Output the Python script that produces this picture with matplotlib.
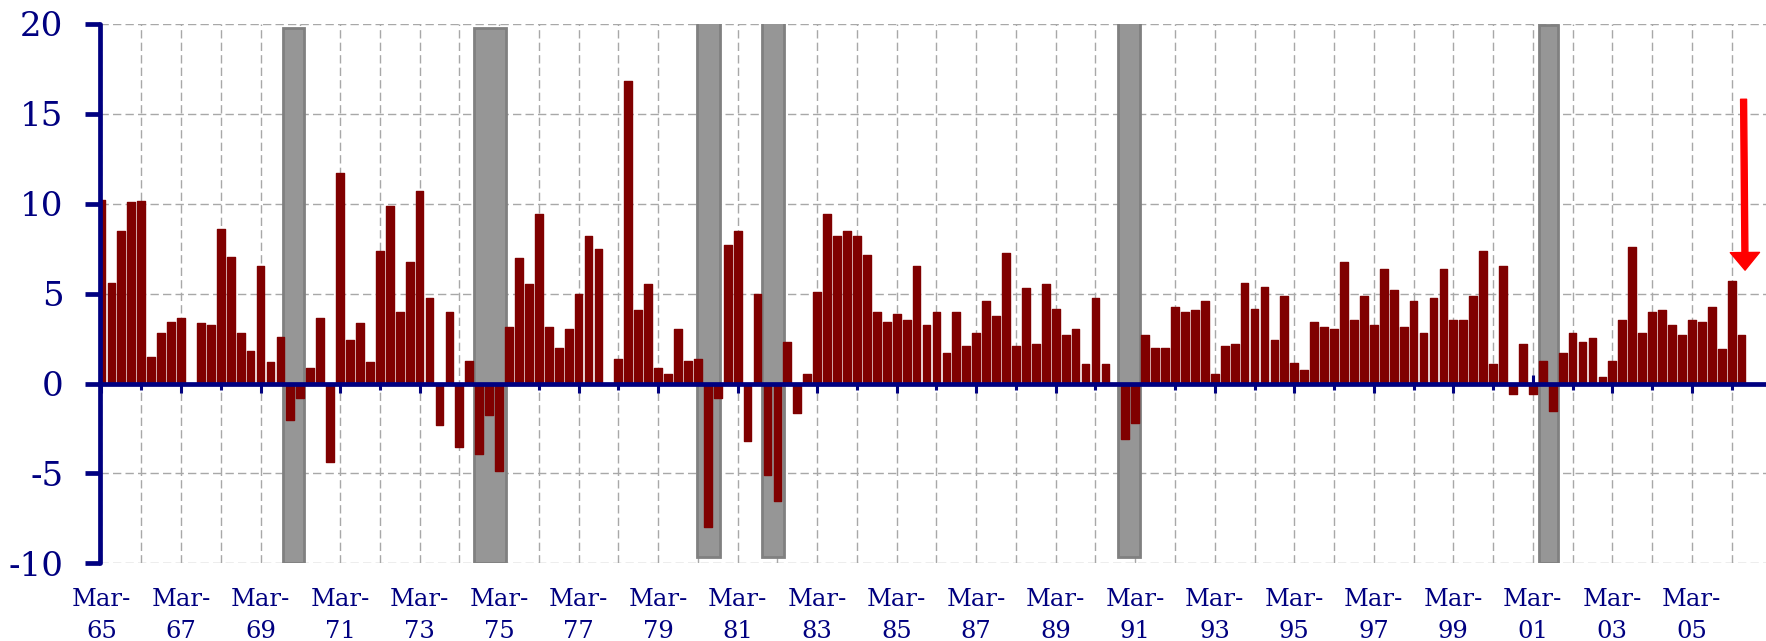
import matplotlib
matplotlib.use("Agg")
import matplotlib.pyplot as plt
import numpy as np

# ---- data -------------------------------------------------------------
values = [
    10.2, 5.6, 8.5, 10.1, 10.15, 1.45, 2.8, 3.43, 3.66, 0.0,
    3.34, 3.23, 8.6, 7.05, 2.8, 1.8, 6.55, 1.18, 2.6, -2.05,
    -0.8, 0.84, 3.66, -4.34, 11.7, 2.43, 3.34, 1.18, 7.36, 9.86,
    3.95, 6.75, 10.68, 4.77, -2.3, 3.95, -3.52, 1.25, -3.93, -1.77,
    -4.89, 3.14, 6.98, 5.55, 9.43, 3.14, 1.98, 3.02, 4.98, 8.18,
    7.48, 0.0, 1.34, 16.8, 4.07, 5.52, 0.84, 0.55, 3.05, 1.25,
    1.36, -7.98, -0.82, 7.7, 8.5, -3.2, 4.98, -5.07, -6.55, 2.3,
    -1.66, 0.55, 5.09, 9.43, 8.18, 8.5, 8.18, 7.16, 3.95, 3.41,
    3.84, 3.55, 6.52, 3.23, 3.95, 1.68, 3.95, 2.09, 2.82, 4.57,
    3.75, 7.27, 2.09, 5.3, 2.2, 5.52, 4.16, 2.7, 3.02, 1.07,
    4.77, 1.07, 0.0, -3.09, -2.18, 2.7, 1.98, 1.98, 4.25, 3.95,
    4.07, 4.57, 0.55, 2.09, 2.2, 5.61, 4.16, 5.39, 2.41, 4.89,
    1.16, 0.73, 3.43, 3.14, 3.05, 6.75, 3.55, 4.89, 3.23, 6.34,
    5.2, 3.14, 4.57, 2.82, 4.77, 6.34, 3.55, 3.55, 4.89, 7.36,
    1.07, 6.52, -0.59, 2.2, -0.59, 1.25, -1.55, 1.68, 2.82, 2.3,
    2.52, 0.34, 1.25, 3.55, 7.59, 2.82, 3.95, 4.07, 3.23, 2.7,
    3.55, 3.43, 4.25, 1.89, 5.7, 2.7,
]

# recession shading (start / end in quarter index, bottom / top in value units)
rec_start = [18.25, 37.45, 59.95, 66.45, 102.25, 144.65]
rec_end = [20.35, 40.65, 62.25, 68.65, 104.45, 146.55]
rec_bottom = [-10.0, -10.0, -9.63, -9.63, -9.63, -10.0]
rec_top = [19.75, 19.75, 20.1, 20.1, 20.1, 19.94]

label_idx = list(range(0, 166, 8))
label_txt = ["Mar-\n65", "Mar-\n67", "Mar-\n69", "Mar-\n71", "Mar-\n73",
             "Mar-\n75", "Mar-\n77", "Mar-\n79", "Mar-\n81", "Mar-\n83",
             "Mar-\n85", "Mar-\n87", "Mar-\n89", "Mar-\n91", "Mar-\n93",
             "Mar-\n95", "Mar-\n97", "Mar-\n99", "Mar-\n01", "Mar-\n03",
             "Mar-\n05"]
yticks = [-10, -5, 0, 5, 10, 15, 20]
ytick_txt = ["-10", "-5", "0", "5", "10", "15", "20"]

arrow_from = (165.2, 15.8)
arrow_to = (165.35, 6.3)

# ---- style ------------------------------------------------------------
NAVY = "#000080"
BAR = "#800000"
plt.rcParams["font.family"] = ["DejaVu Serif"]

W, H = 1766, 641
fig = plt.figure(figsize=(W / 100, H / 100), dpi=100)
left_px, bottom_px, top_px = 100, 563.4, 23.7
ax = fig.add_axes([left_px / W, (H - bottom_px) / H, 1 - left_px / W,
                   (bottom_px - top_px) / H])

x = np.arange(len(values))
px_per_q = 9.94
ax.set_xlim(-0.15, -0.15 + (W - left_px) / px_per_q)
ax.set_ylim(-10, 20)

# recession bars
ax.bar(rec_start, np.array(rec_top) - np.array(rec_bottom), bottom=rec_bottom,
       width=np.array(rec_end) - np.array(rec_start), align="edge",
       color="#969696", edgecolor="#808080", linewidth=2, zorder=1)

# data bars (slightly rounded look via round-joined edge)
ax.bar(x, values, width=0.78, color=BAR, edgecolor=BAR, linewidth=1.0,
       joinstyle="round", zorder=2)

# grid
ax.set_xticks(label_idx)
ax.set_xticks([i for i in range(4, 166, 8)], minor=True)
ax.set_yticks(yticks)
ax.set_yticklabels(ytick_txt)
grid_kw = dict(color="#a8a8a8", linewidth=1.0, linestyle=(0, (6, 3)))
ax.grid(True, which="both", axis="x", **grid_kw)
ax.grid(True, which="major", axis="y", **grid_kw)
ax.set_axisbelow(True)

# spines
for s in ("top", "right"):
    ax.spines[s].set_visible(False)
ax.spines["left"].set_color(NAVY)
ax.spines["left"].set_linewidth(3.4)
ax.spines["left"].set_zorder(3)
ax.spines["left"].set_capstyle("round")
ax.spines["bottom"].set_position(("data", 0))
ax.spines["bottom"].set_color(NAVY)
ax.spines["bottom"].set_linewidth(3.4)
ax.spines["bottom"].set_zorder(3)

ax.tick_params(axis="y", which="major", direction="out", length=10.8,
               width=3.4, color=NAVY, labelcolor=NAVY, labelsize=24.5,
               pad=15.5)
ax.tick_params(axis="x", which="major", direction="inout", length=12.7,
               width=2.2, color=NAVY, labelbottom=False)
ax.tick_params(axis="x", which="minor", direction="out", length=4.5,
               width=2.2, color=NAVY, labelbottom=False)

# bottom label axis
sec = ax.secondary_xaxis(0.0)
sec.set_xticks(label_idx)
sec.set_xticklabels(label_txt)
sec.tick_params(axis="x", length=0, pad=18, labelsize=17.5, labelcolor=NAVY)
sec.spines["bottom"].set_visible(False)
for lab in sec.get_xticklabels():
    lab.set_linespacing(1.45)

# red arrow
ax.annotate("", xy=arrow_to, xytext=arrow_from,
            arrowprops=dict(facecolor="red", edgecolor="red", width=4.3,
                            headwidth=21, headlength=12.7, shrink=0),
            zorder=5)

fig.savefig("out.png", dpi=100)
